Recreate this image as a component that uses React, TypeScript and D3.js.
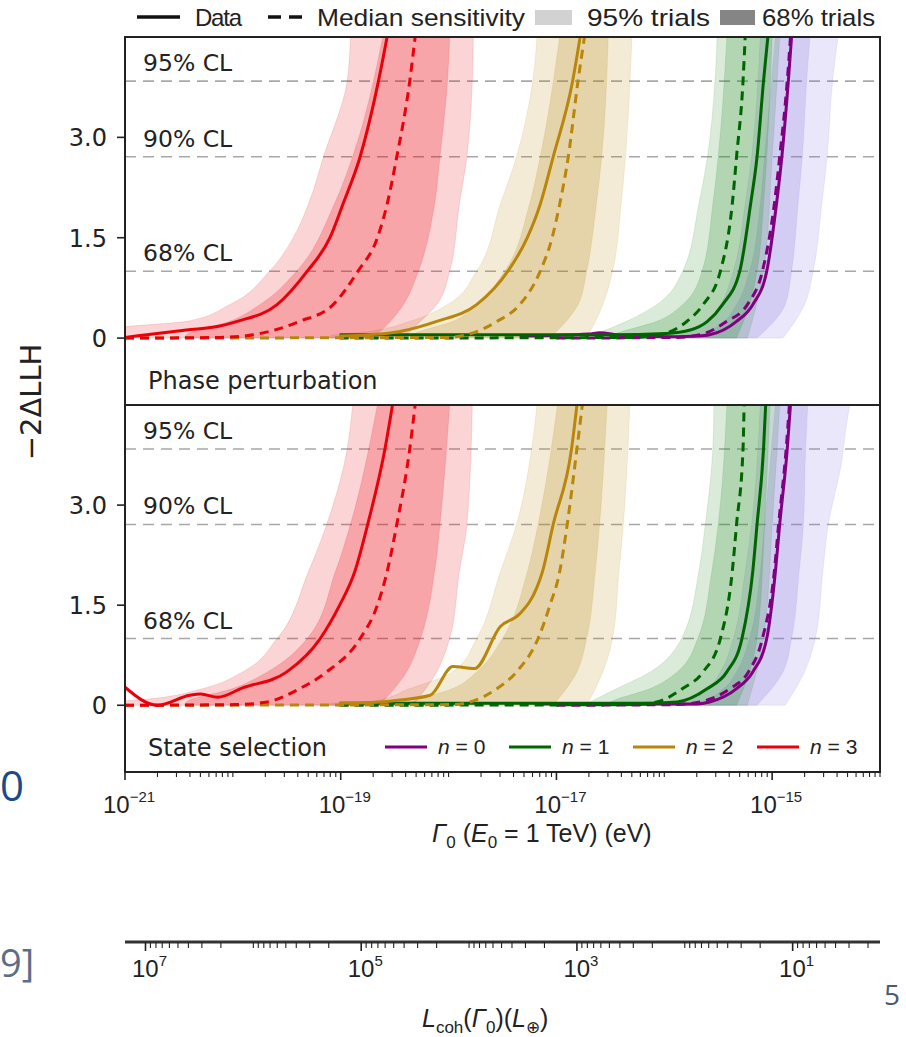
import React from 'react';
import * as d3 from 'd3';

type Pt = [number, number]; // [log10(Γ0 / eV), −2ΔLLH]

// ---------------- Phase perturbation (top panel) ----------------
const PP0_DATA: Pt[] = [[-17.34,0.03],[-16.7,0.06],[-16.6,0.08],[-16.4,0.04],[-15.9,0.02],[-15.7,0.03],[-15.58,0.05],[-15.33,0.25],[-15.18,0.5],[-15.05,1],[-14.96,2],[-14.91,2.71],[-14.85,3.84],[-14.82,4.5]];
const PP0_MED: Pt[] = [[-17.0,0],[-15.9,0.01],[-15.67,0.05],[-15.42,0.25],[-15.23,0.5],[-15.09,1],[-14.98,2],[-14.93,2.71],[-14.86,3.84],[-14.83,4.5]];
const PP0_B95_L: Pt[] = [[-16.13,0],[-15.85,0.05],[-15.6,0.25],[-15.48,0.5],[-15.36,1],[-15.25,2],[-15.19,2.71],[-15.11,4.5]];
const PP0_B95_R: Pt[] = [[-14.9,0],[-14.7,0.5],[-14.62,1],[-14.54,2],[-14.49,2.71],[-14.44,3.84],[-14.39,4.5]];
const PP0_B68_L: Pt[] = [[-15.9,0],[-15.67,0.05],[-15.45,0.25],[-15.33,0.5],[-15.21,1],[-15.11,2],[-15.07,2.71],[-14.97,4.5]];
const PP0_B68_R: Pt[] = [[-15.14,0],[-14.88,0.5],[-14.82,1],[-14.76,2],[-14.72,2.71],[-14.68,3.84],[-14.65,4.5]];

const PP1_DATA: Pt[] = [[-19.01,0.05],[-16.5,0.05],[-15.98,0.07],[-15.76,0.12],[-15.6,0.25],[-15.46,0.5],[-15.3,1],[-15.2,2],[-15.14,2.71],[-15.08,3.84],[-15.04,4.5]];
const PP1_MED: Pt[] = [[-19.01,0],[-16.29,0.01],[-16.04,0.05],[-15.79,0.25],[-15.64,0.5],[-15.48,1],[-15.37,2],[-15.33,2.71],[-15.27,3.84],[-15.25,4.5]];
const PP1_B95_L: Pt[] = [[-16.75,0],[-16.66,0.05],[-16.35,0.25],[-16.07,0.5],[-15.83,1],[-15.68,2],[-15.6,2.71],[-15.53,3.84],[-15.51,4.5]];
const PP1_B95_R: Pt[] = [[-15.23,0],[-15.08,1],[-15.0,2.71],[-14.93,4.5]];
const PP1_B68_L: Pt[] = [[-16.55,0],[-16.48,0.05],[-16.07,0.25],[-15.83,0.5],[-15.65,1],[-15.55,2],[-15.5,2.71],[-15.42,4.5]];
const PP1_B68_R: Pt[] = [[-15.33,0],[-15.21,0.5],[-15.14,1],[-15.08,2],[-15.05,2.71],[-15.0,4.5]];

const PP2_DATA: Pt[] = [[-19.01,0.03],[-18.73,0.05],[-18.45,0.1],[-18.11,0.25],[-17.74,0.5],[-17.45,1],[-17.27,1.5],[-17.15,2],[-17.03,2.71],[-16.85,3.84],[-16.78,4.5]];
const PP2_MED: Pt[] = [[-21.0,0],[-18.01,0.01],[-17.83,0.05],[-17.55,0.25],[-17.34,0.5],[-17.15,1],[-17.04,1.5],[-16.97,2],[-16.89,2.71],[-16.8,3.84],[-16.74,4.5]];
const PP2_B95_L: Pt[] = [[-19.1,0],[-19.1,0.03],[-18.73,0.1],[-18.36,0.25],[-18.01,0.5],[-17.74,1],[-17.52,2],[-17.37,2.71],[-17.22,3.84],[-17.18,4.5]];
const PP2_B95_R: Pt[] = [[-16.72,0],[-16.57,0.5],[-16.48,1],[-16.4,2],[-16.36,2.71],[-16.3,4.5]];
const PP2_B68_L: Pt[] = [[-18.35,0],[-18.33,0.05],[-17.96,0.25],[-17.74,0.5],[-17.48,1],[-17.25,2],[-17.15,2.71],[-16.97,4.5]];
const PP2_B68_R: Pt[] = [[-17.06,0],[-16.8,0.5],[-16.72,1],[-16.63,2],[-16.58,2.71],[-16.52,4.5]];

const PP3_DATA: Pt[] = [[-21.0,0.01],[-20.74,0.06],[-20.43,0.12],[-20.12,0.18],[-19.96,0.25],[-19.59,0.5],[-19.31,1],[-19.1,1.5],[-18.98,2],[-18.82,2.71],[-18.65,3.84],[-18.57,4.5]];
const PP3_MED: Pt[] = [[-21.0,0],[-20.12,0.01],[-19.81,0.05],[-19.38,0.25],[-19.07,0.5],[-18.84,1],[-18.66,1.5],[-18.57,2],[-18.48,2.71],[-18.36,3.84],[-18.31,4.5]];
const PP3_B95_L: Pt[] = [[-21.05,0],[-21.05,0.15],[-20.43,0.25],[-20.03,0.5],[-19.66,1],[-19.44,1.5],[-19.3,2],[-19.16,2.71],[-18.94,3.84],[-18.91,4.5]];
const PP3_B95_R: Pt[] = [[-18.42,0],[-18.26,0.25],[-18.11,0.5],[-17.99,1],[-17.9,2],[-17.83,2.71],[-17.78,3.84],[-17.77,4.5]];
const PP3_B68_L: Pt[] = [[-20.45,0],[-20.43,0.05],[-20.03,0.25],[-19.75,0.5],[-19.41,1],[-19.06,2],[-18.89,2.71],[-18.61,4.5]];
const PP3_B68_R: Pt[] = [[-18.7,0],[-18.54,0.25],[-18.42,0.5],[-18.28,1],[-18.13,2],[-18.08,2.71],[-18.01,3.84],[-17.99,4.5]];

// ---------------- State selection (bottom panel) ----------------
const SS0_DATA: Pt[] = [[-17.2,0.02],[-15.7,0.02],[-15.58,0.05],[-15.33,0.25],[-15.18,0.5],[-15.05,1],[-14.97,2],[-14.93,2.71],[-14.86,3.84],[-14.83,4.5]];
const SS0_MED: Pt[] = [[-17.0,0],[-15.9,0.01],[-15.67,0.05],[-15.39,0.25],[-15.22,0.5],[-15.09,1],[-14.98,2],[-14.94,2.71],[-14.87,3.84],[-14.84,4.5]];
const SS0_B95_L: Pt[] = [[-16.13,0],[-15.85,0.05],[-15.6,0.25],[-15.48,0.5],[-15.36,1],[-15.25,2],[-15.19,2.71],[-15.11,4.5]];
const SS0_B95_R: Pt[] = [[-14.88,0],[-14.7,0.5],[-14.6,1],[-14.53,2],[-14.48,2.71],[-14.4,3.3],[-14.36,3.6],[-14.34,3.84],[-14.32,4.1],[-14.28,4.5]];
const SS0_B68_L: Pt[] = [[-15.9,0],[-15.67,0.05],[-15.45,0.25],[-15.33,0.5],[-15.21,1],[-15.11,2],[-15.07,2.71],[-14.97,4.5]];
const SS0_B68_R: Pt[] = [[-15.14,0],[-14.9,0.5],[-14.82,1],[-14.75,2],[-14.71,2.71],[-14.69,3.84],[-14.67,4.5]];

const SS1_DATA: Pt[] = [[-19.01,0.03],[-16.2,0.03],[-15.88,0.05],[-15.6,0.25],[-15.42,0.5],[-15.28,1],[-15.18,2],[-15.14,2.71],[-15.08,3.84],[-15.06,4.5]];
const SS1_MED: Pt[] = [[-19.01,0],[-16.29,0.01],[-16.07,0.05],[-15.83,0.25],[-15.64,0.5],[-15.48,1],[-15.37,2],[-15.33,2.71],[-15.27,3.84],[-15.26,4.5]];
const SS1_B95_L: Pt[] = [[-16.75,0],[-16.69,0.05],[-16.44,0.25],[-16.13,0.5],[-15.84,1],[-15.68,2],[-15.62,2.71],[-15.55,3.84],[-15.54,4.5]];
const SS1_B95_R: Pt[] = [[-15.23,0],[-15.08,1],[-15.0,2.71],[-14.93,4.5]];
const SS1_B68_L: Pt[] = [[-16.55,0],[-16.5,0.05],[-16.13,0.25],[-15.88,0.5],[-15.69,1],[-15.56,2],[-15.5,2.71],[-15.42,4.5]];
const SS1_B68_R: Pt[] = [[-15.33,0],[-15.21,0.5],[-15.14,1],[-15.07,2.71],[-15.02,4.5]];

const SS2_DATA: Pt[] = [[-19.01,0.03],[-18.73,0.04],[-18.45,0.08],[-18.17,0.15],[-17.96,0.58],[-17.76,0.55],[-17.52,1.18],[-17.34,1.37],[-17.18,1.77],[-17.13,2],[-17.03,2.71],[-16.86,3.84],[-16.81,4.5]];
const SS2_MED: Pt[] = [[-21.0,0],[-17.96,0.01],[-17.8,0.05],[-17.55,0.25],[-17.37,0.5],[-17.17,1],[-17.06,1.5],[-16.97,2],[-16.9,2.71],[-16.81,3.84],[-16.76,4.5]];
const SS2_B95_L: Pt[] = [[-19.1,0],[-19.1,0.03],[-18.73,0.05],[-18.36,0.25],[-17.96,0.5],[-17.74,1],[-17.52,2],[-17.37,2.71],[-17.23,3.84],[-17.18,4.5]];
const SS2_B95_R: Pt[] = [[-16.72,0],[-16.57,0.5],[-16.48,1],[-16.42,2],[-16.38,2.71],[-16.32,4.5]];
const SS2_B68_L: Pt[] = [[-18.35,0],[-18.33,0.05],[-17.96,0.25],[-17.74,0.5],[-17.5,1],[-17.27,2],[-17.17,2.71],[-16.99,4.5]];
const SS2_B68_R: Pt[] = [[-17.03,0],[-16.81,0.5],[-16.72,1],[-16.64,2],[-16.6,2.71],[-16.53,4.5]];

const SS3_DATA: Pt[] = [[-21.0,0.27],[-20.7,0.0],[-20.4,0.15],[-20.3,0.17],[-20.14,0.12],[-19.91,0.26],[-19.5,0.5],[-19.19,1],[-19.01,1.5],[-18.87,2],[-18.75,2.71],[-18.59,3.84],[-18.52,4.5]];
const SS3_MED: Pt[] = [[-21.0,0],[-19.98,0.01],[-19.68,0.05],[-19.38,0.25],[-19.13,0.5],[-18.82,1],[-18.66,1.5],[-18.57,2],[-18.48,2.71],[-18.36,3.84],[-18.31,4.5]];
const SS3_B95_L: Pt[] = [[-21.05,0],[-21.05,0.05],[-20.74,0.1],[-20.28,0.25],[-19.91,0.5],[-19.59,1],[-19.3,2],[-19.13,2.71],[-18.94,3.84],[-18.89,4.5]];
const SS3_B95_R: Pt[] = [[-18.33,0],[-18.11,0.5],[-17.99,1],[-17.9,2],[-17.83,2.71],[-17.78,4.5]];
const SS3_B68_L: Pt[] = [[-20.45,0],[-20.43,0.05],[-20.0,0.25],[-19.68,0.5],[-19.31,1],[-19.05,2],[-18.91,2.71],[-18.66,4.5]];
const SS3_B68_R: Pt[] = [[-18.64,0],[-18.39,0.5],[-18.26,1],[-18.13,2],[-18.08,2.71],[-17.99,4.5]];

// ---------------- axes / labels ----------------
const GAMMA_DOMAIN: [number, number] = [1e-21, 1e-14];
const Y_DOMAIN: [number, number] = [-1, 4.5];
const Y_TICKS = [0, 1.5, 3.0];
const Y_TICK_LABELS = ['0', '1.5', '3.0'];
const CL_LEVELS = [3.84, 2.71, 1.0];
const CL_LABELS = ['95% CL', '90% CL', '68% CL'];
const X_LABEL_EXPONENTS = [-21, -19, -17, -15];
const L_LABEL_EXPONENTS = [7, 5, 3, 1];
const L_COH_CONST = Math.pow(10, -13.81); // L_coh [L⊕] = L_COH_CONST / Γ0 [eV]
const N_VALUES = [0, 1, 2, 3];
const PANEL_NAMES = ['Phase perturbation', 'State selection'];

const LINE_COLORS = ['#800080', '#006400', '#b8860b', '#e8000b'];
const BAND_COLORS = ['#8470e0', '#228b22', '#b8860b', '#e8000b'];

const FONT = "'Liberation Sans', Arial, sans-serif";
const FONT2 = "'DejaVu Sans', sans-serif";

type SetN = { data: Pt[]; med: Pt[]; b95L: Pt[]; b95R: Pt[]; b68L: Pt[]; b68R: Pt[] };
const PP_SETS: SetN[] = [
  { data: PP0_DATA, med: PP0_MED, b95L: PP0_B95_L, b95R: PP0_B95_R, b68L: PP0_B68_L, b68R: PP0_B68_R },
  { data: PP1_DATA, med: PP1_MED, b95L: PP1_B95_L, b95R: PP1_B95_R, b68L: PP1_B68_L, b68R: PP1_B68_R },
  { data: PP2_DATA, med: PP2_MED, b95L: PP2_B95_L, b95R: PP2_B95_R, b68L: PP2_B68_L, b68R: PP2_B68_R },
  { data: PP3_DATA, med: PP3_MED, b95L: PP3_B95_L, b95R: PP3_B95_R, b68L: PP3_B68_L, b68R: PP3_B68_R },
];
const SS_SETS: SetN[] = [
  { data: SS0_DATA, med: SS0_MED, b95L: SS0_B95_L, b95R: SS0_B95_R, b68L: SS0_B68_L, b68R: SS0_B68_R },
  { data: SS1_DATA, med: SS1_MED, b95L: SS1_B95_L, b95R: SS1_B95_R, b68L: SS1_B68_L, b68R: SS1_B68_R },
  { data: SS2_DATA, med: SS2_MED, b95L: SS2_B95_L, b95R: SS2_B95_R, b68L: SS2_B68_L, b68R: SS2_B68_R },
  { data: SS3_DATA, med: SS3_MED, b95L: SS3_B95_L, b95R: SS3_B95_R, b68L: SS3_B68_L, b68R: SS3_B68_R },
];

export default function App() {
  const W = 906, H = 1037;
  const PL = 125, PR = 880;
  const panels = [
    { top: 37, bottom: 405, sets: PP_SETS, name: PANEL_NAMES[0] },
    { top: 405, bottom: 772, sets: SS_SETS, name: PANEL_NAMES[1] },
  ];
  const x = d3.scaleLog().domain(GAMMA_DOMAIN).range([PL, PR]);
  const gx = (e: number) => x(Math.pow(10, e));
  const x2 = d3.scaleLog().domain([L_COH_CONST / GAMMA_DOMAIN[0], L_COH_CONST / GAMMA_DOMAIN[1]]).range([PL, PR]);

  const gTicks: { v: number; major: boolean }[] = [];
  for (let e = -21; e <= -14; e++) {
    for (let k = 1; k <= 9; k++) {
      const v = k * Math.pow(10, e);
      if (v < GAMMA_DOMAIN[0] * 0.999 || v > GAMMA_DOMAIN[1] * 1.001) continue;
      gTicks.push({ v, major: k === 1 && X_LABEL_EXPONENTS.includes(e) });
    }
  }
  const lDom = x2.domain();
  const lTicks: { v: number; major: boolean }[] = [];
  for (let p = 0; p <= 7; p++) {
    for (let k = 1; k <= 9; k++) {
      const v = k * Math.pow(10, p);
      if (v > lDom[0] || v < lDom[1]) continue;
      lTicks.push({ v, major: k === 1 && L_LABEL_EXPONENTS.includes(p) });
    }
  }
  const AX2_Y = 942;

  return (
    <svg width={W} height={H} style={{ position: 'absolute', left: 0, top: 0, background: '#fff' }} fontFamily={FONT}>
      <defs>
        {panels.map((p, i) => (
          <clipPath id={`clip${i}`} key={i}>
            <rect x={PL} y={p.top} width={PR - PL} height={p.bottom - p.top} />
          </clipPath>
        ))}
      </defs>

      {panels.map((p, pi) => {
        const y = d3.scaleLinear().domain(Y_DOMAIN).range([p.bottom, p.top]);
        const line = d3.line<Pt>().x(d => gx(d[0])).y(d => y(d[1])).curve(d3.curveMonotoneX);
        const edge = d3.line<Pt>().x(d => gx(d[0])).y(d => y(d[1])).curve(d3.curveMonotoneY);
        const band = (L: Pt[], R: Pt[]) =>
          (edge(L) as string) + (edge([...R].reverse()) as string).replace(/^M/, 'L') + 'Z';
        return (
          <g key={pi}>
            {CL_LEVELS.map((lv, i) => (
              <line key={i} x1={PL} x2={PR} y1={y(lv)} y2={y(lv)} stroke="#a8a8a8" strokeWidth={1.6} strokeDasharray="11,7" />
            ))}
            <g clipPath={`url(#clip${pi})`}>
              {N_VALUES.map(n => (
                <g key={'b' + n}>
                  <path d={band(p.sets[n].b95L, p.sets[n].b95R)} fill={BAND_COLORS[n]} fillOpacity={0.17} stroke={BAND_COLORS[n]} strokeOpacity={0.12} strokeWidth={1} />
                  <path d={band(p.sets[n].b68L, p.sets[n].b68R)} fill={BAND_COLORS[n]} fillOpacity={0.22} stroke={BAND_COLORS[n]} strokeOpacity={0.12} strokeWidth={1} />
                </g>
              ))}
              {N_VALUES.map(n => (
                <g key={'l' + n}>
                  <path d={line(p.sets[n].med) as string} fill="none" stroke={LINE_COLORS[n]} strokeWidth={3} strokeDasharray="9,6" />
                  <path d={line(p.sets[n].data) as string} fill="none" stroke={LINE_COLORS[n]} strokeWidth={3} />
                </g>
              ))}
            </g>
            {CL_LEVELS.map((lv, i) => (
              <text key={i} x={143} y={y(lv) - 10} fontFamily={FONT2} fontSize={23.5} fill="#222">{CL_LABELS[i]}</text>
            ))}
            {Y_TICKS.map((t, i) => (
              <g key={i}>
                <line x1={PL - 8} x2={PL} y1={y(t)} y2={y(t)} stroke="#222" strokeWidth={1.6} />
                <text x={107} y={y(t) + 9} textAnchor="end" fontFamily={FONT2} fontSize={24} fill="#222">{Y_TICK_LABELS[i]}</text>
              </g>
            ))}
            <text x={148} y={p.bottom - 16} fontFamily={FONT2} fontSize={24} fill="#222">{p.name}</text>
          </g>
        );
      })}

      <rect x={PL} y={37} width={PR - PL} height={772 - 37} fill="none" stroke="#222" strokeWidth={2} />
      <line x1={PL} x2={PR} y1={405} y2={405} stroke="#222" strokeWidth={2} />

      {N_VALUES.map((n, i) => (
        <g key={n}>
          <line x1={385 + i * 124} x2={427 + i * 124} y1={747} y2={747} stroke={LINE_COLORS[n]} strokeWidth={3.2} />
          <text x={438 + i * 124} y={754} fontSize={21} fill="#222">
            <tspan fontStyle="italic">n</tspan> = {n}
          </text>
        </g>
      ))}

      {gTicks.map((t, i) => (
        <line key={i} x1={x(t.v)} x2={x(t.v)} y1={772} y2={772 + (t.major ? 8 : 5)} stroke="#222" strokeWidth={t.major ? 1.6 : 1.1} />
      ))}
      {X_LABEL_EXPONENTS.map(e => (
        <text key={e} x={gx(e) + 4} y={813} textAnchor="middle" fontSize={24} fill="#222">
          10<tspan dy={-11} fontSize={15}>{'\u2212' + Math.abs(e)}</tspan>
        </text>
      ))}
      <text x={432} y={842} fontSize={25} fill="#222">
        <tspan fontStyle="italic">Γ</tspan><tspan fontSize={17} dy={6}>0</tspan><tspan dy={-6}> (</tspan><tspan fontStyle="italic">E</tspan><tspan fontSize={17} dy={6}>0</tspan><tspan dy={-6}> = 1 TeV) (eV)</tspan>
      </text>

      <line x1={PL} x2={PR} y1={AX2_Y} y2={AX2_Y} stroke="#333" strokeWidth={3} />
      {lTicks.map((t, i) => (
        <line key={i} x1={x2(t.v)} x2={x2(t.v)} y1={AX2_Y} y2={AX2_Y + (t.major ? 9 : 6)} stroke="#222" strokeWidth={t.major ? 1.6 : 1.1} />
      ))}
      {L_LABEL_EXPONENTS.map(p => (
        <text key={p} x={x2(Math.pow(10, p)) + 4} y={977} textAnchor="middle" fontSize={24} fill="#222">
          10<tspan dy={-11} fontSize={15}>{String(p)}</tspan>
        </text>
      ))}
      <text x={422} y={1027} fontSize={25} fill="#222">
        <tspan fontStyle="italic">L</tspan><tspan fontSize={17} dy={6}>coh</tspan><tspan dy={-6}>(</tspan><tspan fontStyle="italic">Γ</tspan><tspan fontSize={17} dy={6}>0</tspan><tspan dy={-6}>)(</tspan><tspan fontStyle="italic">L</tspan><tspan fontSize={17} dy={6}>⊕</tspan><tspan dy={-6}>)</tspan>
      </text>

      <text transform="translate(41,402) rotate(-90)" textAnchor="middle" fontFamily={FONT2} fontSize={29} fill="#222">−2ΔLLH</text>

      <line x1={137} x2={180} y1={17} y2={17} stroke="#111" strokeWidth={3.5} />
      <text x={195} y={26} fontSize={24} fill="#222" textLength={47}>Data</text>
      <line x1={268} x2={308} y1={17} y2={17} stroke="#111" strokeWidth={3.5} strokeDasharray="13,8" />
      <text x={317} y={26} fontSize={24} fill="#222" textLength={208} lengthAdjust="spacingAndGlyphs">Median sensitivity</text>
      <rect x={535} y={10} width={37} height={15} fill="#d2d2d2" />
      <text x={587} y={26} fontSize={24} fill="#222" textLength={123} lengthAdjust="spacingAndGlyphs">95% trials</text>
      <rect x={720} y={10} width={35} height={15} fill="#858585" />
      <text x={762} y={26} fontSize={24} fill="#222" textLength={113} lengthAdjust="spacingAndGlyphs">68% trials</text>

      <text x={0} y={801} fontFamily="'Open Sans', sans-serif" fontSize={42} fill="#1b4a8a">0</text>
      <text x={0} y={977} fontFamily="'Open Sans', sans-serif" fontSize={38} fill="#5b6f88">9]</text>
      <text x={884} y={1005} fontFamily="'Open Sans', sans-serif" fontSize={28} fill="#4a5a70">5</text>
    </svg>
  );
}
